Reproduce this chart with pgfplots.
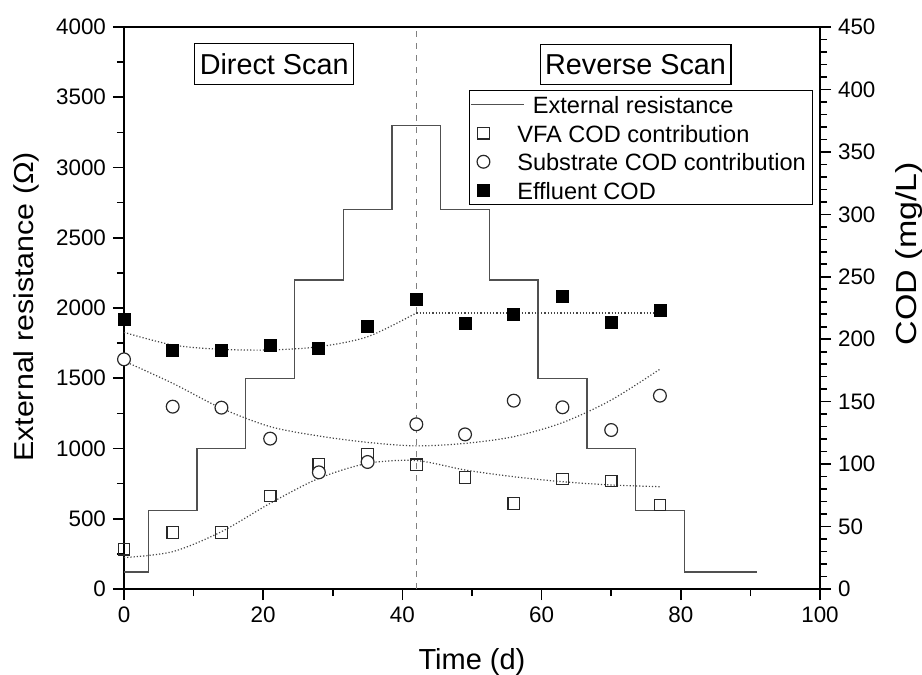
\documentclass[border=0pt]{standalone}
\usepackage{fontspec}
\setmainfont{Liberation Sans}
\usepackage{pgfplots}
\pgfplotsset{compat=1.18}

\definecolor{stepgray}{RGB}{80,80,80}
\definecolor{fitgray}{RGB}{70,70,70}
\definecolor{markgray}{RGB}{40,40,40}

\newcommand{\tickfont}{\fontsize{11.2}{13}\selectfont}

\begin{document}
\begin{tikzpicture}
\pgfplotsset{
  every axis/.append style={
    scale only axis, width=348pt, height=281pt,
    xmin=0, xmax=100,
    tick align=outside,
    major tick length=5.5pt, minor tick length=3.5pt,
    tick style={black, line width=0.8pt},
    axis line style={line width=1pt},
    xticklabel={\tickfont\pgfmathprintnumber[assume math mode=true]{\tick}},
    yticklabel={\tickfont\pgfmathprintnumber[assume math mode=true]{\tick}},
    /pgf/number format/1000 sep={},
    scaled ticks=false,
  },
}

% left axis: external resistance
\begin{axis}[
  ymin=0, ymax=4000,
  xtick={0,20,...,100}, minor x tick num=1,
  ytick={0,500,...,4000}, minor y tick num=1,
  xtick pos=left, ytick pos=left,
  xlabel={Time (d)},
  ylabel={\scalebox{1}[0.9]{External resistance (Ω)}},
  xlabel style={font=\fontsize{14.5}{17}\selectfont, at={(axis description cs:0.5,-0.1441)}, anchor=base},
  ylabel style={font=\fontsize{15.2}{18}\selectfont, at={(axis description cs:-0.1303,0.502)}, anchor=base},
]
  \addplot[gray, dashed, line width=0.6pt] coordinates {(42,0) (42,4000)};
  \addplot[const plot mark left, stepgray, line width=0.7pt] coordinates {
    (0,120) (3.5,560) (10.5,1000) (17.5,1500) (24.5,2200) (31.5,2700)
    (38.5,3300) (45.5,2700) (52.5,2200) (59.5,1500) (66.5,1000)
    (73.5,560) (80.5,120) (91,120)
  };
  \node[draw, line width=0.6pt, inner xsep=2.5pt, inner ysep=5pt, text depth=0pt,
        font=\fontsize{14.4}{17}\selectfont] at (axis cs:21.58,3739) {Direct Scan};
  \node[draw, line width=0.6pt, inner xsep=2.5pt, inner ysep=5pt, text depth=0pt,
        font=\fontsize{14.4}{17}\selectfont] at (axis cs:73.5,3732) {Reverse Scan};
\end{axis}

% right axis: COD
\begin{axis}[
  ymin=0, ymax=450,
  ytick={0,50,...,450}, minor y tick num=4,
  axis x line=none, axis y line*=right, ytick pos=right,
  ylabel={\scalebox{1}[0.85]{COD (mg/L)}},
  ylabel style={font=\fontsize{17}{20}\selectfont, at={(axis description cs:1.139,0.597)}, anchor=base},
  legend style={at={(0.99,0.888)}, anchor=north east, draw=black, line width=0.6pt,
    font=\fontsize{11.8}{14}\selectfont, inner xsep=3.3pt, inner ysep=2.5pt,
    cells={anchor=west}, nodes={inner sep=0pt, text height=9pt, text depth=0pt},
    column sep=13.4pt, row sep=5.3pt},
]
  \addlegendimage{legend image code/.code={
    \path[draw=none, fill=none] (-3.5pt,-3pt) rectangle (3.5pt,3pt);
    \draw[stepgray, line width=0.7pt, overlay] (-6.3pt,0pt) -- (20.2pt,0pt);}}
  \addlegendentry{\hspace{7.8pt}External resistance}

  % VFA COD contribution
  \addplot[only marks, mark=square, mark size=2.9pt, mark options={markgray, line width=0.6pt},
    legend image code/.code={
      \path[draw=none, fill=none] (-3.5pt,-3pt) rectangle (3.5pt,3pt);
      \draw[markgray, line width=0.6pt, mark=square, mark size=2.9pt, only marks] plot coordinates {(0pt,0pt)};}]
    coordinates {
    (0,31.8) (7,45.4) (14,45.4) (21,74.5) (28,99.8) (35,108.1)
    (42,99.5) (49,89.4) (56,68.6) (63,88.1) (70,86.5) (77,67.3)
  };
  \addlegendentry{VFA COD contribution}

  % Substrate COD contribution
  \addplot[only marks, mark=*, mark size=3.2pt, mark options={draw=markgray, fill=white, line width=0.6pt},
    legend image code/.code={
      \path[draw=none, fill=none] (-3.5pt,-3pt) rectangle (3.5pt,3pt);
      \draw[draw=markgray, fill=white, line width=0.6pt, mark=*, mark size=3.2pt, only marks] plot coordinates {(0pt,0pt)};}]
    coordinates {
    (0,183.9) (7,146) (14,145.2) (21,120.4) (28,93.4) (35,101.7)
    (42,131.9) (49,123.8) (56,150.8) (63,145.5) (70,127.3) (77,154.8)
  };
  \addlegendentry{Substrate COD contribution}

  % Effluent COD
  \addplot[only marks, mark=square*, mark size=3pt, mark options={black},
    legend image code/.code={
      \path[draw=none, fill=none] (-3.5pt,-3pt) rectangle (3.5pt,3pt);
      \draw[black, fill=black, mark=square*, mark size=3pt, only marks] plot coordinates {(0pt,0pt)};}]
    coordinates {
    (0,216) (7,191.4) (14,190.8) (21,194.8) (28,192.7) (35,210)
    (42,232) (49,212.7) (56,219.9) (63,234) (70,213.8) (77,222.8)
  };
  \addlegendentry{Effluent COD}

  % fitted trends
  \addplot[fitgray, densely dotted, line width=0.6pt, smooth, forget plot] coordinates {
    (0,25.1) (7,29.9) (14,45.9) (21,68.6) (28,88.6) (35,100.6) (42,102.8)
    (49,95.3) (56,89.9) (63,85.9) (70,83.3) (77,81.9)
  };
  \addplot[fitgray, densely dotted, line width=0.6pt, smooth, forget plot] coordinates {
    (0,182.5) (7,164.7) (14,144.7) (21,130) (28,122.5) (35,117.4) (42,114.6)
    (49,116.6) (56,122) (63,133.2) (70,151.3) (77,176)
  };
  \addplot[fitgray, densely dotted, line width=0.6pt, smooth, forget plot] coordinates {
    (0,205.5) (7,195.4) (14,191.9) (21,191.4) (28,194) (35,202) (42,221)
  };
  \addplot[fitgray, densely dotted, line width=0.6pt, forget plot] coordinates {
    (42,221) (77,221)
  };
\end{axis}

\pgfresetboundingbox
\path (-62pt,-43pt) rectangle (399pt,294.5pt);
\end{tikzpicture}
\end{document}
